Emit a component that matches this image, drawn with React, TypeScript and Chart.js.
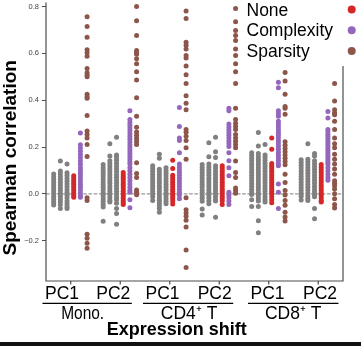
import React, { useEffect, useRef } from 'react';
import { Chart, registerables } from 'chart.js';
Chart.register(...registerables);

const pcLabels = ['PC1', 'PC2', 'PC1', 'PC2', 'PC1', 'PC2'];
const groupNames = ['Mono.', 'CD4\u207A T', 'CD8\u207A T'];
const seriesNames = ['None', 'Complexity', 'Sparsity'];
const yTickValues = [-0.2, 0.0, 0.2, 0.4, 0.6, 0.8];

// ---- Mono. PC1 ----
const monoPC1Gray = [
  [0.085, 0.072, 0.06, 0.048, 0.036, 0.024, 0.012, 0.0, -0.012, -0.024, -0.036, -0.048],
  [0.14, 0.098, 0.086, 0.074, 0.062, 0.05, 0.038, 0.026, 0.014, 0.002, -0.01, -0.022, -0.034, -0.046, -0.063],
  [0.127, 0.09, 0.078, 0.066, 0.054, 0.042, 0.03, 0.018, 0.006, -0.006, -0.018, -0.03, -0.042, -0.054, -0.063],
];
const monoPC1None = [0.077, 0.068, 0.058, 0.049, 0.04, 0.031, 0.022, 0.012, 0.003, -0.006, -0.014];
const monoPC1Complexity = [0.26, 0.21, 0.196, 0.182, 0.168, 0.154, 0.14, 0.126, 0.112, 0.1, 0.088, 0.076, 0.064, 0.052, 0.04, 0.028, 0.016, 0.004, -0.008, -0.014];
const monoPC1Sparsity = [0.756, 0.715, 0.669, 0.615, 0.603, 0.587, 0.535, 0.517, 0.507, 0.5, 0.425, 0.415, 0.408, 0.335, 0.268, 0.253, 0.239, 0.211, 0.159, -0.017, -0.028, -0.172, -0.19, -0.211, -0.232];

// ---- Mono. PC2 ----
const monoPC2Gray = [
  [0.125, 0.112, 0.1, 0.088, 0.076, 0.064, 0.052, 0.04, 0.028, 0.016, 0.004, -0.008, -0.02, -0.032, -0.044, -0.056, -0.117],
  [0.214, 0.162, 0.141, 0.129, 0.117, 0.105, 0.093, 0.081, 0.069, 0.057, 0.045, 0.033, 0.021, 0.009, -0.003, -0.015, -0.027, -0.035],
  [0.242, 0.166, 0.155, 0.143, 0.131, 0.119, 0.107, 0.095, 0.083, 0.071, 0.059, 0.047, 0.035, 0.023, 0.011, -0.001, -0.013, -0.025, -0.04, -0.063, -0.084, -0.13],
];
const monoPC2None = [0.091, 0.081, 0.071, 0.061, 0.051, 0.041, 0.031, 0.021, 0.011, 0.001, -0.009, -0.019, -0.029, -0.038, -0.045];
const monoPC2Complexity = [0.355, 0.317, 0.305, 0.293, 0.281, 0.269, 0.257, 0.245, 0.233, 0.221, 0.209, 0.197, 0.185, 0.173, 0.161, 0.149, 0.137, 0.127, 0.112, 0.098, 0.084, 0.07, 0.056, 0.042, 0.028, 0.015, 0.007, -0.025, -0.059];
const monoPC2Sparsity = [0.8, 0.739, 0.676, 0.612, 0.605, 0.596, 0.577, 0.556, 0.521, 0.486, 0.41, 0.331, 0.284, 0.264, 0.25, 0.236, 0.224, 0.211, 0.133, 0.087, 0.07, 0.017, 0.007, -0.004];

// ---- CD4+ T PC1 ----
const cd4PC1Gray = [
  [0.12, 0.108, 0.096, 0.084, 0.072, 0.06, 0.048, 0.036, 0.024, 0.012, 0.0, -0.012, -0.028],
  [0.169, 0.152, 0.105, 0.093, 0.081, 0.069, 0.057, 0.045, 0.033, 0.021, 0.009, -0.003, -0.015, -0.027, -0.039, -0.051, -0.063, -0.078],
  [0.112, 0.1, 0.088, 0.076, 0.064, 0.052, 0.04, 0.028, 0.016, 0.004, -0.008, -0.02, -0.032, -0.042],
];
const cd4PC1None = [0.144, 0.108, 0.08, 0.07, 0.06, 0.05, 0.04, 0.03, 0.02, 0.01, 0.0, -0.01, -0.02, -0.03, -0.043];
const cd4PC1Complexity = [0.369, 0.288, 0.239, 0.228, 0.176, 0.127, 0.115, 0.103, 0.091, 0.079, 0.067, 0.055, 0.043, 0.031, 0.019, 0.007, -0.005, -0.021];
const cd4PC1Sparsity = [0.781, 0.749, 0.647, 0.634, 0.619, 0.591, 0.58, 0.546, 0.509, 0.471, 0.419, 0.387, 0.359, 0.275, 0.263, 0.246, 0.228, 0.197, 0.148, -0.017, -0.068, -0.082, -0.096, -0.113, -0.141, -0.24, -0.314];

// ---- CD4+ T PC2 ----
const cd4PC2Gray = [
  [0.125, 0.113, 0.101, 0.089, 0.077, 0.065, 0.053, 0.041, 0.029, 0.017, 0.005, -0.007, -0.019, -0.031, -0.065, -0.09],
  [0.218, 0.158, 0.127, 0.115, 0.103, 0.091, 0.079, 0.067, 0.055, 0.043, 0.031, 0.019, 0.007, -0.005, -0.017, -0.029, -0.042],
  [0.242, 0.18, 0.155, 0.12, 0.108, 0.096, 0.084, 0.072, 0.06, 0.048, 0.036, 0.024, 0.012, 0.0, -0.012, -0.024, -0.03, -0.1],
];
const cd4PC2None = [0.12, 0.11, 0.1, 0.09, 0.08, 0.07, 0.06, 0.05, 0.04, 0.03, 0.02, 0.01, 0.0, -0.01, -0.02, -0.03, -0.045];
const cd4PC2Complexity = [0.366, 0.355, 0.298, 0.286, 0.274, 0.262, 0.25, 0.238, 0.226, 0.214, 0.202, 0.176, 0.141, 0.112, 0.077, 0.007, -0.005, -0.017, -0.03, -0.045];
const cd4PC2Sparsity = [0.791, 0.735, 0.697, 0.676, 0.655, 0.619, 0.591, 0.556, 0.521, 0.471, 0.366, 0.317, 0.302, 0.288, 0.275, 0.253, 0.239, 0.225, 0.211, 0.197, 0.14, 0.091, 0.07, 0.025, 0.014, 0.003];

// ---- CD8+ T PC1 ----
const cd8PC1Gray = [
  [0.176, 0.164, 0.152, 0.14, 0.128, 0.116, 0.104, 0.092, 0.08, 0.068, 0.056, 0.044, 0.032, 0.02, 0.008, -0.003, -0.025, -0.054],
  [0.262, 0.204, 0.172, 0.16, 0.148, 0.136, 0.124, 0.112, 0.1, 0.088, 0.076, 0.064, 0.052, 0.04, 0.028, 0.016, 0.004, -0.008, -0.02, -0.03, -0.054, -0.115, -0.166],
  [0.211, 0.166, 0.155, 0.143, 0.131, 0.119, 0.107, 0.095, 0.083, 0.071, 0.059, 0.047, 0.035, 0.023, 0.011, -0.001, -0.013, -0.025, -0.035],
];
const cd8PC1None = [0.238, 0.19, 0.13, 0.12, 0.11, 0.1, 0.09, 0.08, 0.07, 0.06, 0.05, 0.04, 0.03, 0.02, 0.01, 0.0, -0.012, -0.025, -0.038];
const cd8PC1Complexity = [0.476, 0.453, 0.355, 0.343, 0.331, 0.31, 0.298, 0.286, 0.274, 0.262, 0.25, 0.238, 0.226, 0.214, 0.202, 0.19, 0.178, 0.166, 0.154, 0.142, 0.13, 0.12, 0.042, 0.007, -0.063];
const cd8PC1Sparsity = [0.518, 0.482, 0.425, 0.373, 0.366, 0.34, 0.222, 0.208, 0.194, 0.18, 0.166, 0.152, 0.138, 0.124, 0.084, 0.049, 0.014, -0.005, -0.028, -0.049, -0.078, -0.099, -0.116];

// ---- CD8+ T PC2 ----
const cd8PC2Gray = [
  [0.146, 0.134, 0.122, 0.11, 0.098, 0.086, 0.074, 0.062, 0.05, 0.038, 0.026, 0.014, 0.002, -0.01, -0.026],
  [0.214, 0.148, 0.136, 0.124, 0.112, 0.1, 0.088, 0.076, 0.064, 0.052, 0.04, 0.028, 0.016, 0.004, -0.008, -0.02, -0.028],
  [0.172, 0.162, 0.141, 0.129, 0.117, 0.105, 0.093, 0.081, 0.069, 0.057, 0.045, 0.033, 0.021, 0.009, -0.003, -0.012, -0.063, -0.106],
];
const cd8PC2None = [0.125, 0.114, 0.103, 0.092, 0.081, 0.07, 0.059, 0.048, 0.037, 0.026, 0.015, 0.004, -0.007, -0.018, -0.029, -0.035];
const cd8PC2Complexity = [0.352, 0.324, 0.275, 0.265, 0.255, 0.245, 0.235, 0.225, 0.215, 0.205, 0.195, 0.185, 0.175, 0.165, 0.155, 0.145, 0.135, 0.125, 0.112, 0.098, 0.084, 0.07, 0.058];
const cd8PC2Sparsity = [0.471, 0.397, 0.359, 0.345, 0.338, 0.31, 0.275, 0.239, 0.214, 0.197, 0.169, 0.148, 0.127, 0.106, 0.084, 0.056, 0.045, 0.035, 0.021, 0.0, -0.021, -0.045, -0.06];

const grayByGroup = [monoPC1Gray, monoPC2Gray, cd4PC1Gray, cd4PC2Gray, cd8PC1Gray, cd8PC2Gray];
const noneByGroup = [monoPC1None, monoPC2None, cd4PC1None, cd4PC2None, cd8PC1None, cd8PC2None];
const complexityByGroup = [monoPC1Complexity, monoPC2Complexity, cd4PC1Complexity, cd4PC2Complexity, cd8PC1Complexity, cd8PC2Complexity];
const sparsityByGroup = [monoPC1Sparsity, monoPC2Sparsity, cd4PC1Sparsity, cd4PC2Sparsity, cd8PC1Sparsity, cd8PC2Sparsity];

// ---- styling (positions within a category, colours, text layout) ----
const grayOffsets = [-0.345, -0.21, -0.075];
const seriesOffsets = [0.06, 0.195, 0.33];
const GRAY = '#808080';
const seriesColors = ['#d62728', '#9467bd', '#8c564b'];
const labelShift = [-8.75, -6.95, -7.25, -4.55, -1.25, 1.75];
const groupShift = [-4.5, 1, 0];
const groupMaxWidth = [43, 62, 60];
const FONT = "'Liberation Sans', Arial, Helvetica, sans-serif";
const AXIS = '#4d4d4d';

function toPoints(lists: number[][], offset: number) {
  const pts: { x: number; y: number }[] = [];
  lists.forEach((vals, gi) => {
    vals.forEach((v) => pts.push({ x: gi + offset, y: v }));
  });
  return pts;
}

function grayPoints() {
  const pts: { x: number; y: number }[] = [];
  grayByGroup.forEach((cols, gi) => {
    cols.forEach((vals, ci) => {
      vals.forEach((v) => pts.push({ x: gi + grayOffsets[ci], y: v }));
    });
  });
  return pts;
}

const decor = {
  id: 'decor',
  beforeDatasetsDraw(chart: any) {
    const { ctx, chartArea } = chart;
    const y = chart.scales.y;
    const y0 = y.getPixelForValue(0);
    ctx.save();
    ctx.strokeStyle = '#9a9a9a';
    ctx.lineWidth = 1.2;
    ctx.setLineDash([3.7, 1.6]);
    ctx.beginPath();
    ctx.moveTo(chartArea.left, y0);
    ctx.lineTo(chartArea.right, y0);
    ctx.stroke();
    ctx.restore();
  },
  afterDraw(chart: any) {
    const { ctx, chartArea } = chart;
    const { left, right, top, bottom } = chartArea;
    const x = chart.scales.x;
    ctx.save();
    // spines
    ctx.strokeStyle = AXIS;
    ctx.lineWidth = 1.2;
    ctx.beginPath();
    ctx.moveTo(left, top);
    ctx.lineTo(left, bottom);
    ctx.lineTo(right, bottom);
    ctx.lineTo(right, top);
    ctx.stroke();
    // x ticks
    pcLabels.forEach((_, i) => {
      const px = x.getPixelForValue(i);
      ctx.beginPath();
      ctx.moveTo(px, bottom);
      ctx.lineTo(px, bottom + 3.5);
      ctx.stroke();
    });
    // PC labels
    ctx.fillStyle = '#000';
    ctx.textAlign = 'center';
    ctx.textBaseline = 'alphabetic';
    ctx.font = `17.5px ${FONT}`;
    pcLabels.forEach((lab, i) => {
      ctx.fillText(lab, x.getPixelForValue(i) + labelShift[i], bottom + 17.5, 36);
    });
    // group underlines and names
    ctx.strokeStyle = '#000';
    ctx.lineWidth = 1.3;
    groupNames.forEach((name, g) => {
      const a = x.getPixelForValue(2 * g) + labelShift[2 * g] - 19.5;
      const b = x.getPixelForValue(2 * g + 1) + labelShift[2 * g + 1] + 18.5;
      ctx.beginPath();
      ctx.moveTo(a, bottom + 22.3);
      ctx.lineTo(b, bottom + 22.3);
      ctx.stroke();
      ctx.font = `17.5px ${FONT}`;
      ctx.fillText(name, (a + b) / 2 + groupShift[g], bottom + 38.3, groupMaxWidth[g]);
    });
    // x title
    ctx.font = `bold 18px ${FONT}`;
    ctx.fillText('Expression shift', 176.7, bottom + 54);
    // y title
    ctx.save();
    ctx.translate(10.5, (top + bottom) / 2 + 16);
    ctx.rotate(-Math.PI / 2);
    ctx.textBaseline = 'middle';
    ctx.font = `bold 19px ${FONT}`;
    ctx.fillText('Spearman correlation', 0, 0);
    ctx.restore();
    // legend
    ctx.fillStyle = '#fff';
    ctx.fillRect(244, 0, chart.width - 244, 66);
    ctx.textAlign = 'left';
    ctx.font = `17.5px ${FONT}`;
    seriesNames.forEach((name, i) => {
      const cy = 9.5 + i * 20.8;
      ctx.fillStyle = '#000';
      ctx.fillText(name, 246.5, cy + 6);
      ctx.fillStyle = seriesColors[i];
      ctx.beginPath();
      ctx.arc(351.7, cy, 4, 0, Math.PI * 2);
      ctx.fill();
    });
    // bottom dark edge
    ctx.fillStyle = '#111';
    ctx.fillRect(0, chart.height - 4, chart.width, 4);
    ctx.restore();
  },
};

export default function App() {
  const ref = useRef<HTMLCanvasElement | null>(null);
  useEffect(() => {
    document.body.style.margin = '0';
    const canvas = ref.current;
    if (!canvas) return;
    const pointStyle = { pointRadius: 2.5, pointHoverRadius: 2.5, borderWidth: 0 };
    const datasets: any[] = [
      { label: 'gray', data: grayPoints(), backgroundColor: GRAY, borderColor: GRAY, ...pointStyle },
      { label: seriesNames[0], data: toPoints(noneByGroup, seriesOffsets[0]), backgroundColor: seriesColors[0], borderColor: seriesColors[0], ...pointStyle },
      { label: seriesNames[1], data: toPoints(complexityByGroup, seriesOffsets[1]), backgroundColor: seriesColors[1], borderColor: seriesColors[1], ...pointStyle },
      { label: seriesNames[2], data: toPoints(sparsityByGroup, seriesOffsets[2]), backgroundColor: seriesColors[2], borderColor: seriesColors[2], ...pointStyle },
    ];
    const chart = new Chart(canvas, {
      type: 'scatter',
      data: { datasets },
      options: {
        animation: false,
        responsive: false,
        devicePixelRatio: 1,
        layout: { padding: { left: 0, right: 18, top: 0, bottom: 65 } },
        plugins: { legend: { display: false }, tooltip: { enabled: false } },
        scales: {
          x: { type: 'linear', min: -0.5, max: 5.5, display: false },
          y: {
            type: 'linear',
            min: -0.372,
            max: 0.817,
            afterBuildTicks: (axis: any) => {
              axis.ticks = yTickValues.map((v) => ({ value: v }));
            },
            afterFit: (axis: any) => {
              axis.width = 46;
              axis.paddingTop = 0;
              axis.paddingBottom = 0;
            },
            border: { display: false },
            grid: { drawOnChartArea: false, drawTicks: true, tickLength: 4, color: AXIS, lineWidth: 1 },
            ticks: {
              padding: 3,
              color: '#444',
              font: { family: FONT, size: 7.5 },
              callback: (v: any) => Number(v).toFixed(1).replace('-', '\u2212'),
            },
          },
        },
      },
      plugins: [decor],
    });
    return () => chart.destroy();
  }, []);
  return <canvas ref={ref} width={361} height={346} style={{ display: 'block', width: 361, height: 346 }} />;
}
